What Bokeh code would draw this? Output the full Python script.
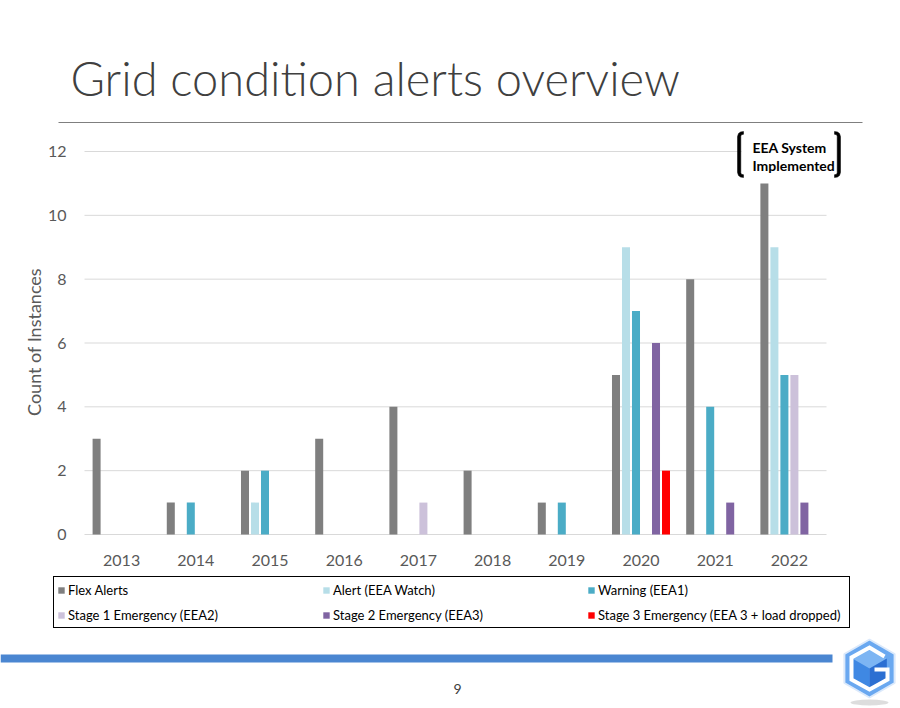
import math
from bokeh.plotting import figure
from bokeh.models import Range1d, Legend, LegendItem, ColumnDataSource
from bokeh.transform import dodge
from bokeh.embed import file_html
from bokeh.resources import INLINE
from bokeh.core.properties import value

# ---------------- data ----------------
years = ["2013", "2014", "2015", "2016", "2017", "2018", "2019", "2020", "2021", "2022"]
flex_alerts = [3, 1, 2, 3, 4, 2, 1, 5, 8, 11]
alert_eea_watch = [0, 0, 1, 0, 0, 0, 0, 9, 0, 9]
warning_eea1 = [0, 1, 2, 0, 0, 0, 1, 7, 4, 5]
stage1_eea2 = [0, 0, 0, 0, 1, 0, 0, 0, 0, 5]
stage2_eea3 = [0, 0, 0, 0, 0, 0, 0, 6, 1, 1]
stage3_load_dropped = [0, 0, 0, 0, 0, 0, 0, 2, 0, 0]

series_labels = ["Flex Alerts", "Alert (EEA Watch)", "Warning (EEA1)",
                 "Stage 1 Emergency (EEA2)", "Stage 2 Emergency (EEA3)",
                 "Stage 3 Emergency (EEA 3 + load dropped)"]
series_values = [flex_alerts, alert_eea_watch, warning_eea1,
                 stage1_eea2, stage2_eea3, stage3_load_dropped]
series_colors = ["#7f7f7f", "#b7dee8", "#4bacc6", "#ccc1da", "#8064a2", "#ff0000"]
y_ticks = [0, 2, 4, 6, 8, 10, 12]

title_text = "Grid condition alerts overview"
y_axis_label = "Count of Instances"
annotation_lines = ["EEA System", "Implemented"]
page_number = "9"

FONT = "Lato"
TEXT_GREY = "#595959"

# ---------------- page canvas (page-pixel coordinates) ----------------
W, H = 900, 708
PX0, PY0 = 0, 0                      # page offset of the canvas
p = figure(width=W, height=H, x_range=Range1d(PX0, PX0 + W), y_range=Range1d(PY0 + H, PY0),
           x_axis_location=None, y_axis_location=None, min_border=0,
           output_backend="svg", toolbar_location=None, outline_line_color=None,
           background_fill_color="white", border_fill_color="white")
p.grid.visible = False

# plot area of the chart on the page
PL, PR, PB, PT = 84, 826, 534, 151   # left, right, bottom(0), top(12)
ncat = len(years)
y_max = max(y_ticks)
px_cat = (PR - PL) / ncat
px_cnt = (PB - PT) / y_max
p.extra_x_ranges = {"cat": Range1d(-(PL - PX0) / px_cat, ncat + (PX0 + W - PR) / px_cat)}
p.extra_y_ranges = {"cnt": Range1d(-(PY0 + H - PB) / px_cnt, y_max + (PT - PY0) / px_cnt)}

# ---------------- header ----------------
p.text(x=[70], y=[77], text=[title_text], text_font=value("Lato Light"),
       text_font_size="47px", text_color="#404040", text_baseline="alphabetic")
p.segment(x0=[58], y0=[122], x1=[862], y1=[122], line_color="#7f7f7f", line_width=1)

# ---------------- chart ----------------
# grid lines
p.segment(x0=[0] * len(y_ticks), x1=[ncat] * len(y_ticks), y0=y_ticks, y1=y_ticks,
          x_range_name="cat", y_range_name="cnt", line_color="#d9d9d9", line_width=1)
# y tick labels
p.text(x=[66] * len(y_ticks), y=y_ticks, text=[str(t) for t in y_ticks], y_range_name="cnt",
       text_font=value(FONT), text_font_size="16px", text_color=TEXT_GREY,
       text_align="right", text_baseline="middle")
# x tick labels
xcenters = [i + 0.5 for i in range(ncat)]
p.text(x=xcenters, y=[560] * ncat, text=years, x_range_name="cat",
       text_font=value(FONT), text_font_size="16px", text_color=TEXT_GREY,
       text_align="center", text_baseline="middle")
# axis title
p.text(x=[33], y=[341.5], text=[y_axis_label], angle=math.pi / 2,
       text_font=value(FONT), text_font_size="18px", text_color=TEXT_GREY,
       text_align="center", text_baseline="middle")

data = {"xc": xcenters}
for i, vals in enumerate(series_values):
    data["s%d" % i] = vals
src = ColumnDataSource(data)

n = len(series_values)
pitch = 0.1348
bar_w = 0.108
items = []
for i in range(n):
    off = (i - (n - 1) / 2) * pitch
    r = p.vbar(x=dodge("xc", off), top="s%d" % i, bottom=0, width=bar_w, source=src,
               x_range_name="cat", y_range_name="cnt",
               fill_color=series_colors[i], line_color=None)
    items.append(LegendItem(label=series_labels[i], renderers=[r]))

legend = Legend(items=items, orientation="horizontal", ncols=3,
                location=(53 - PX0, PY0 + H - 628),
                glyph_width=8, glyph_height=8, label_standoff=3, label_width=248,
                label_height=19, spacing=6, padding=3, margin=0,
                border_line_color="black", border_line_width=1, border_line_alpha=1,
                label_text_font=FONT, label_text_font_size="13px", label_text_color="#000000",
                background_fill_color="white", background_fill_alpha=1)
p.add_layout(legend)

# ---------------- annotation (bracket pair) ----------------
BL, BR, BT, BH = 737, 840, 131, 46.0
p.quad(left=[BL + 4], right=[BR - 4], top=[BT], bottom=[BT + BH], fill_color="white", line_color=None)
shape = [(6, 0), (3, 0.5), (1, 2), (0, 5), (0, BH - 5), (1, BH - 2), (3, BH - 0.5), (6, BH),
         (6, BH - 2.8), (4, BH - 3.2), (3.3, BH - 4.5), (3.3, 4.5), (4, 3.2), (6, 2.8)]
bxs, bys = [], []
for edge, d in ((BL, 1), (BR, -1)):
    bxs.append([edge + d * dx for dx, dy in shape])
    bys.append([BT + dy for dx, dy in shape])
p.patches(bxs, bys, fill_color="black", line_color="black", line_width=0.5)
p.text(x=[752] * len(annotation_lines), y=[147 + 18 * k for k in range(len(annotation_lines))],
       text=annotation_lines, text_font=value(FONT), text_font_style="bold",
       text_font_size="14px", text_color="#000000", text_align="left", text_baseline="middle")

# ---------------- footer ----------------
p.quad(left=[PX0], right=[832], top=[654], bottom=[662], fill_color="#4a86d1", line_color=None)
p.text(x=[457], y=[688], text=[page_number], text_font=value(FONT), text_font_size="14px",
       text_color="#404040", text_align="center", text_baseline="middle")

cx, cy, R = 869, 668, 29
p.ellipse(x=[cx], y=[cy + R + 5], width=38, height=6, fill_color="#9e9e9e", fill_alpha=0.35, line_color=None)
hx = [cx + R * math.sin(math.radians(a)) for a in range(0, 360, 60)]
hy = [cy - R * math.cos(math.radians(a)) for a in range(0, 360, 60)]
p.patch(hx, hy, fill_color="#6aa8f0", line_color="#dbe9fb", line_width=2)
r2 = 20
top_v = (cx, cy - r2)
ur = (cx + r2 * 0.866, cy - r2 / 2)
lr = (cx + r2 * 0.866, cy + r2 / 2)
bot = (cx, cy + r2)
ll = (cx - r2 * 0.866, cy + r2 / 2)
ul = (cx - r2 * 0.866, cy - r2 / 2)
c0 = (cx, cy)
for pts, col in (([top_v, ur, c0, ul], "#7db5f3"), ([ul, c0, bot, ll], "#3f88e3"), ([c0, ur, lr, bot], "#2c6fd2")):
    p.patch([q[0] for q in pts], [q[1] for q in pts], fill_color=col, line_color=None)
gx = [cx + 15, cx, cx - 18, cx - 18, cx, cx + 18, cx + 18, cx + 5]
gy = [cy - 12, cy - 21, cy - 11, cy + 11, cy + 21, cy + 11, cy + 1, cy + 1]
p.line(gx, gy, line_color="white", line_width=4, line_join="miter")

open("out.html", "w").write(file_html(p, INLINE))
